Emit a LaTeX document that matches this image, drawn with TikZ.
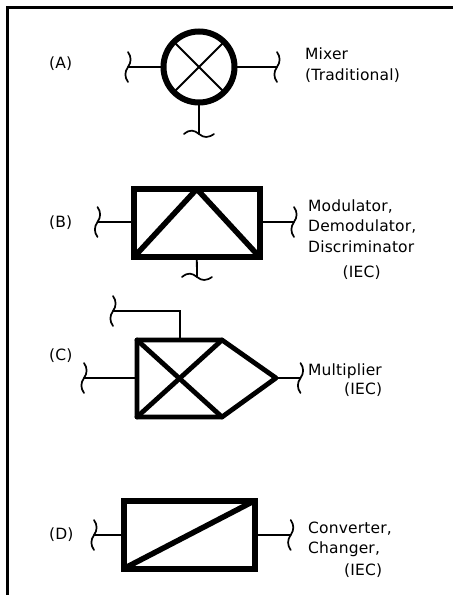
\documentclass[tikz,border=0pt]{standalone}
\usepackage{fontspec}
\setmainfont{DejaVu Sans}[Scale=1,LetterSpace=1]
\begin{document}
\begin{tikzpicture}[x=1pt,y=-1pt,
  wire/.style={line width=1.8pt,line cap=round},
  thick line/.style={line width=5.5pt,line cap=round},
  sym/.style={draw,line width=6pt,inner sep=0pt,outer sep=0pt,minimum width=#1,line join=miter},
  label/.style={font=\fontsize{15.5}{17}\selectfont,inner sep=0pt,anchor=base west,text=black},
  vsq/.pic={\draw[line width=1.7pt,line cap=round] (0,-15) .. controls (3.5,-10) and (3.5,-5) .. (0,0) .. controls (-3.5,5) and (-3.5,10) .. (0,15);},
  hsq/.pic={\draw[line width=1.7pt,line cap=round] (-15,0) .. controls (-9,-5) and (-5,-4) .. (0,0) .. controls (5,4) and (9,4) .. (15,0);}]
\useasboundingbox (0,0) rectangle (453,595);
% frame
\coordinate (fb) at (7,595); \coordinate (ft) at (7,7); \coordinate (fr) at (453,7);
\draw[line width=3pt] (fb) -- (ft) -- (fr);
% A
\node[circle,sym=71pt] (mix) at (199,67) {};
\coordinate (aL) at (128,67); \coordinate (aR) at (277,67); \coordinate (aB) at (199,134);
\draw[wire] (aL) -- (mix.west); \draw[wire] (mix.east) -- (aR); \draw[wire] (mix.south) -- (aB);
\draw[wire] (mix.45) -- (mix.225); \draw[wire] (mix.135) -- (mix.-45);
\pic at (aL) {vsq}; \pic at (aR) {vsq}; \pic at (aB) {hsq};
\node[label] (la) at (49,68) {(A)};
\node[label] (a1) at (305,59.5) {Mixer};
\node[label] (a2) at (305,80.5) {(Traditional)};
% B
\node[rectangle,sym=125.5pt,minimum height=68pt] (mod) at (196.8,223) {};
\coordinate (bL) at (97.5,222); \coordinate (bR) at (294,222); \coordinate (bB) at (197,277);
\draw[wire] (bL) -- (bL -| mod.west); \draw[wire] (bR -| mod.east) -- (bR); \draw[wire] (mod.south) -- (bB);
\begin{scope}
\clip (mod.south west) rectangle (mod.north east);
\draw[thick line,line join=miter,line cap=butt] (mod.south west) -- (mod.north) -- (mod.south east);
\end{scope}
\pic at (bL) {vsq}; \pic at (bR) {vsq}; \pic at (bB) {hsq};
\node[label] (lb) at (49,227) {(B)};
\node[label] (b1) at (308,211.7) {Modulator,};
\node[label] (b2) at (308,231.7) {Demodulator,};
\node[label] (b3) at (308,252.7) {Discriminator};
\node[label] (b4) at (342.5,277) {(IEC)};
% C
\coordinate (c1) at (137,340); \coordinate (c2) at (222,340); \coordinate (c3) at (276,378);
\coordinate (c4) at (222,417); \coordinate (c5) at (137,417); \coordinate (cm) at (180,340);
\coordinate (cL) at (84,378); \coordinate (cR) at (300.5,378); \coordinate (cT) at (113,311); \coordinate (cTc) at (180,311);
\draw[thick line,line join=round,line width=4.8pt] (c1) -- (c2) -- (c3) -- (c4) -- (c5) -- cycle;
\draw[thick line,line width=4.8pt] (c1) -- (c4); \draw[thick line,line width=4.8pt] (c5) -- (c2);
\draw[wire] (cL) -- (cL -| c1); \draw[wire] (c3) -- (cR); \draw[wire] (cm) -- (cTc) -- (cT);
\pic at (cL) {vsq}; \pic at (cR) {vsq}; \pic at (cT) {vsq};
\node[label] (lc) at (49,360) {(C)};
\node[label] (c6) at (308,375) {Multiplier};
\node[label] (c7) at (344,394.3) {(IEC)};
% D
\node[rectangle,sym=131pt,minimum height=68pt] (conv) at (189.5,534.5) {};
\coordinate (dL) at (94,535); \coordinate (dR) at (290.7,535);
\draw[wire] (dL) -- (dL -| conv.west); \draw[wire] (dR -| conv.east) -- (dR);
\begin{scope}
\clip (conv.south west) rectangle (conv.north east);
\draw[thick line,line cap=butt] (conv.south west) -- (conv.north east);
\end{scope}
\pic at (dL) {vsq}; \pic at (dR) {vsq};
\node[label] (ld) at (49,539) {(D)};
\node[label] (d1) at (308,533) {Converter,};
\node[label] (d2) at (308,553) {Changer,};
\node[label] (d3) at (344,575) {(IEC)};
\end{tikzpicture}
\end{document}
